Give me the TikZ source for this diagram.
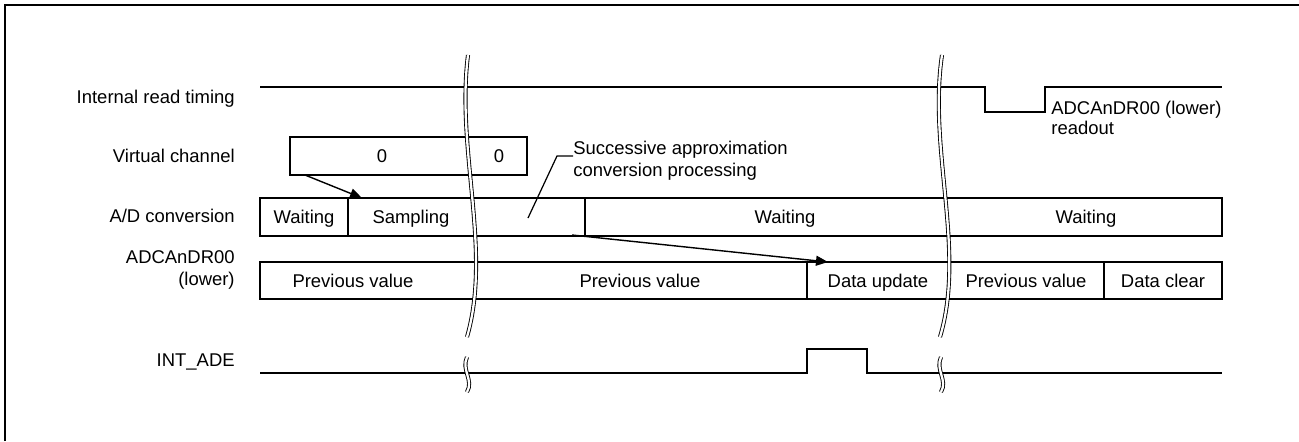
\documentclass[tikz,border=0pt]{standalone}
\usepackage{fontspec}
\setmainfont{Liberation Sans}
\usetikzlibrary{arrows.meta,positioning,calc}

\begin{document}
\begin{tikzpicture}[
  x=0.02cm, y=-0.02cm,
  font=\fontsize{10.5}{13}\selectfont,
  lbl/.style={anchor=east, align=right, inner sep=0pt},
  txt/.style={inner sep=0pt},
  cell/.style={inner sep=0pt, text height=0.72em, text depth=0pt},
  box/.style={line width=0.9pt},
  wave/.style={line width=1.3pt},
  brk/.style={double, double distance=1.3pt, line width=0.5pt},
  arr/.style={line width=0.8pt, -{Triangle[length=2.4mm,width=2mm]}}
]
\useasboundingbox (0,0) rectangle (1299,441);
\draw[line width=1pt] (5,441) -- (5,5) -- (1299,5);

\node[lbl] (lread) at (235,99) {Internal read timing};
\node[lbl] (lvc) at (235,156) {Virtual channel};
\node[lbl] (lad) at (235,216) {A/D conversion};
\node[lbl] (ldr) at (235,270) {ADCAnDR00\\(lower)};
\node[lbl] (lint) at (235,362) {INT\_ADE};

\draw[wave] (260,87) -- (985,87) -- (985,112) -- (1045,112) -- (1045,87) -- (1222,87);
\node[txt, anchor=west, align=left, font=\fontsize{10.5}{11.5}\selectfont] (rdout) at (1051,118) {ADCAnDR00 (lower)\\readout};

\draw[box] (290,137) rectangle (527,175);
\node[cell] (vc0) at (382,156) {0};
\node[cell] (vc1) at (499,156) {0};

\draw[box] (260,198) rectangle (1222,236);
\draw[box] (348,198) -- (348,236);
\draw[box] (585,198) -- (585,236);
\node[cell] (adwait) at (304,217) {Waiting};
\node[cell] (adsamp) at (411,217) {Sampling};
\node[cell] (adwait2) at (785,217) {Waiting};
\node[cell] (adwait3) at (1086,217) {Waiting};

\node[txt, anchor=west, align=left, font=\fontsize{10.5}{12.5}\selectfont] (sap) at (573,161) {Successive approximation\\conversion processing};
\coordinate (sapfoot) at (528,218);
\coordinate (sapknee) at (557,156);
\draw[line width=0.7pt] (sapfoot) -- (sapknee) -- (sapknee -| sap.west);

\draw[box] (260,262) rectangle (1222,299);
\draw[box] (807,262) -- (807,299);
\draw[box] (1104,262) -- (1104,299);
\node[cell] (drprev) at (353,281) {Previous value};
\node[cell] (drprev2) at (640,281) {Previous value};
\node[cell] (drupd) at (878,281) {Data update};
\node[cell] (drprev3) at (1026,281) {Previous value};
\node[cell] (drclr) at (1163,281) {Data clear};

\draw[wave] (260,373) -- (807,373) -- (807,349) -- (867,349) -- (867,373) -- (1222,373);

\coordinate (vcfoot) at (305,175);
\coordinate (samptop) at (362,198);
\draw[arr] (vcfoot) -- (samptop);
\coordinate (sapend) at (572,235);
\coordinate (updtop) at (828,262);
\draw[arr] (sapend) -- (updtop);

\draw[brk] (468,55) .. controls (456,150) and (492,250) .. (467,337);
\draw[brk] (467,357) .. controls (461,370) and (474,380) .. (467,392);
\draw[brk] (942,55) .. controls (928,150) and (966,250) .. (940,337);
\draw[brk] (941,357) .. controls (935,370) and (948,380) .. (941,392);
\end{tikzpicture}
\end{document}
